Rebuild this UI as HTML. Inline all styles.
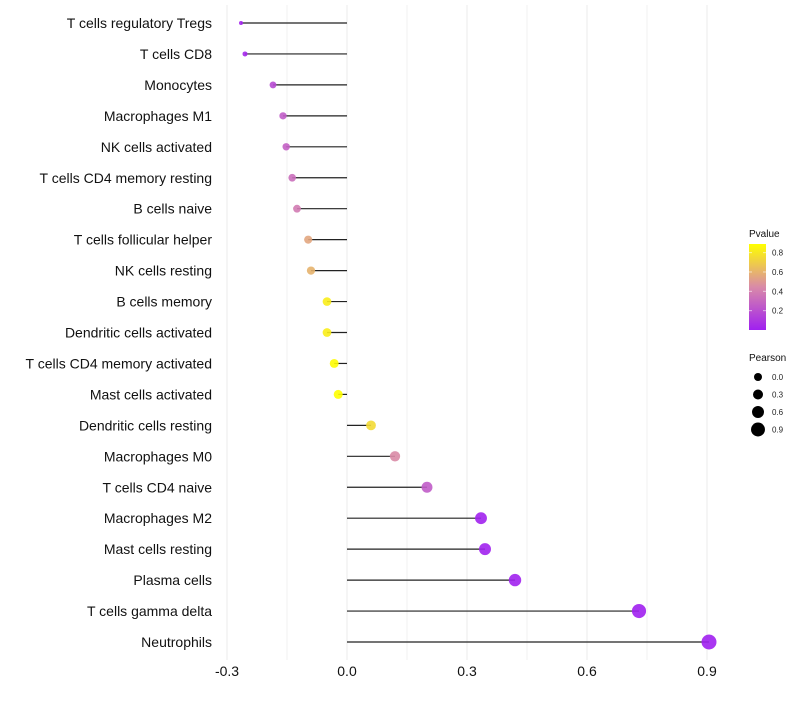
<!DOCTYPE html>
<html><head><meta charset="utf-8"><style>
body{margin:0;background:#fff;font-family:"Liberation Sans",sans-serif}
</style></head><body>
<svg id="chart" width="800" height="700" xmlns="http://www.w3.org/2000/svg">
<defs><linearGradient id="pg" x1="0" y1="1" x2="0" y2="0">
<stop offset="0" stop-color="#a020f0"/><stop offset="0.5" stop-color="#d98aa8"/><stop offset="1" stop-color="#ffff00"/></linearGradient></defs>
<g id="grid"></g><g id="marks"></g><g id="labels"></g><g id="legend"></g>
</svg>
<script>
const categories=["T cells regulatory  Tregs","T cells CD8","Monocytes","Macrophages M1","NK cells activated","T cells CD4 memory resting","B cells naive","T cells follicular helper","NK cells resting","B cells memory","Dendritic cells activated","T cells CD4 memory activated","Mast cells activated","Dendritic cells resting","Macrophages M0","T cells CD4 naive","Macrophages M2","Mast cells resting","Plasma cells","T cells gamma delta","Neutrophils"];
const pearson=[-0.265,-0.255,-0.185,-0.16,-0.152,-0.137,-0.125,-0.097,-0.09,-0.05,-0.05,-0.032,-0.022,0.06,0.12,0.2,0.335,0.345,0.42,0.73,0.905];
const pvalue=[0.02,0.03,0.18,0.25,0.27,0.33,0.38,0.55,0.6,0.82,0.82,0.88,0.9,0.75,0.45,0.25,0.01,0.01,0.01,0.0,0.0];
const xTicks=[-0.3,0,0.3,0.6,0.9];
const xTickLabels=["-0.3","0.0","0.3","0.6","0.9"];
const minorTicks=[-0.15,0.15,0.45,0.75];
const pTicks=[0.2,0.4,0.6,0.8];
const sizeVals=[0.0,0.3,0.6,0.9];

const NS="http://www.w3.org/2000/svg";
const x=v=>347+400*v;
const y=i=>23+i*30.95;
const r=v=>2+5.5*Math.sqrt(Math.max(0,(v+0.265)/1.17));
function col(p){const t=Math.max(0,Math.min(1,p/0.89));
 let a,b,u;if(t<0.5){a=[160,32,240];b=[217,138,168];u=t/0.5}else{a=[217,138,168];b=[255,255,0];u=(t-0.5)/0.5}
 return `rgb(${a.map((c,k)=>Math.round(c+(b[k]-c)*u)).join(",")})`;}
function mk(tag,at,parent){const e=document.createElementNS(NS,tag);for(const k in at)e.setAttribute(k,at[k]);document.getElementById(parent).appendChild(e);return e;}
minorTicks.forEach(v=>{const e=mk("line",{x1:x(v),x2:x(v),y1:5,y2:660,stroke:"#f2f2f2","stroke-width":1},"grid");

});
xTicks.forEach((v,i)=>{const e=mk("line",{x1:x(v),x2:x(v),y1:5,y2:660,stroke:"#ebebeb","stroke-width":1},"grid");


const t=mk("text",{x:x(v),y:676,"text-anchor":"middle","font-size":14,fill:"#111"},"labels");t.textContent=xTickLabels[i];

});
categories.forEach((c,i)=>{
 const t=mk("text",{x:212,y:y(i)+5,"text-anchor":"end","font-size":14,fill:"#111"},"labels");t.textContent=c;
 
 
 const l=mk("line",{x1:x(0),x2:x(pearson[i]),y1:y(i),y2:y(i),stroke:"#222","stroke-width":1.2},"marks");
 
 
 const p=mk("circle",{cx:x(pearson[i]),cy:y(i),r:r(pearson[i]),fill:col(pvalue[i]),"fill-opacity":0.9},"marks");
 
 
});
let t=mk("text",{x:749,y:237,"font-size":10,fill:"#111"},"legend");t.textContent="Pvalue";


let cb=mk("rect",{x:749,y:244,width:17,height:86,fill:"url(#pg)"},"legend");


pTicks.forEach(v=>{const yy=330-v*96.7;
 const tl=mk("text",{x:772,y:yy+3,"font-size":8,fill:"#222"},"legend");tl.textContent=v.toFixed(1);
 
 
 mk("line",{x1:749,x2:752,y1:yy,y2:yy,stroke:"#fff","stroke-opacity":0.6},"legend");
 mk("line",{x1:763,x2:766,y1:yy,y2:yy,stroke:"#fff","stroke-opacity":0.6},"legend");});
t=mk("text",{x:749,y:361,"font-size":10,fill:"#111"},"legend");t.textContent="Pearson";


sizeVals.forEach((v,i)=>{const yy=377+i*17.5;
 const c=mk("circle",{cx:758,cy:yy,r:4+v*3.3,fill:"#000"},"legend");
 
 
 const tl=mk("text",{x:772,y:yy+3,"font-size":8,fill:"#222"},"legend");tl.textContent=v.toFixed(1);
 
 });
</script>
</body></html>
